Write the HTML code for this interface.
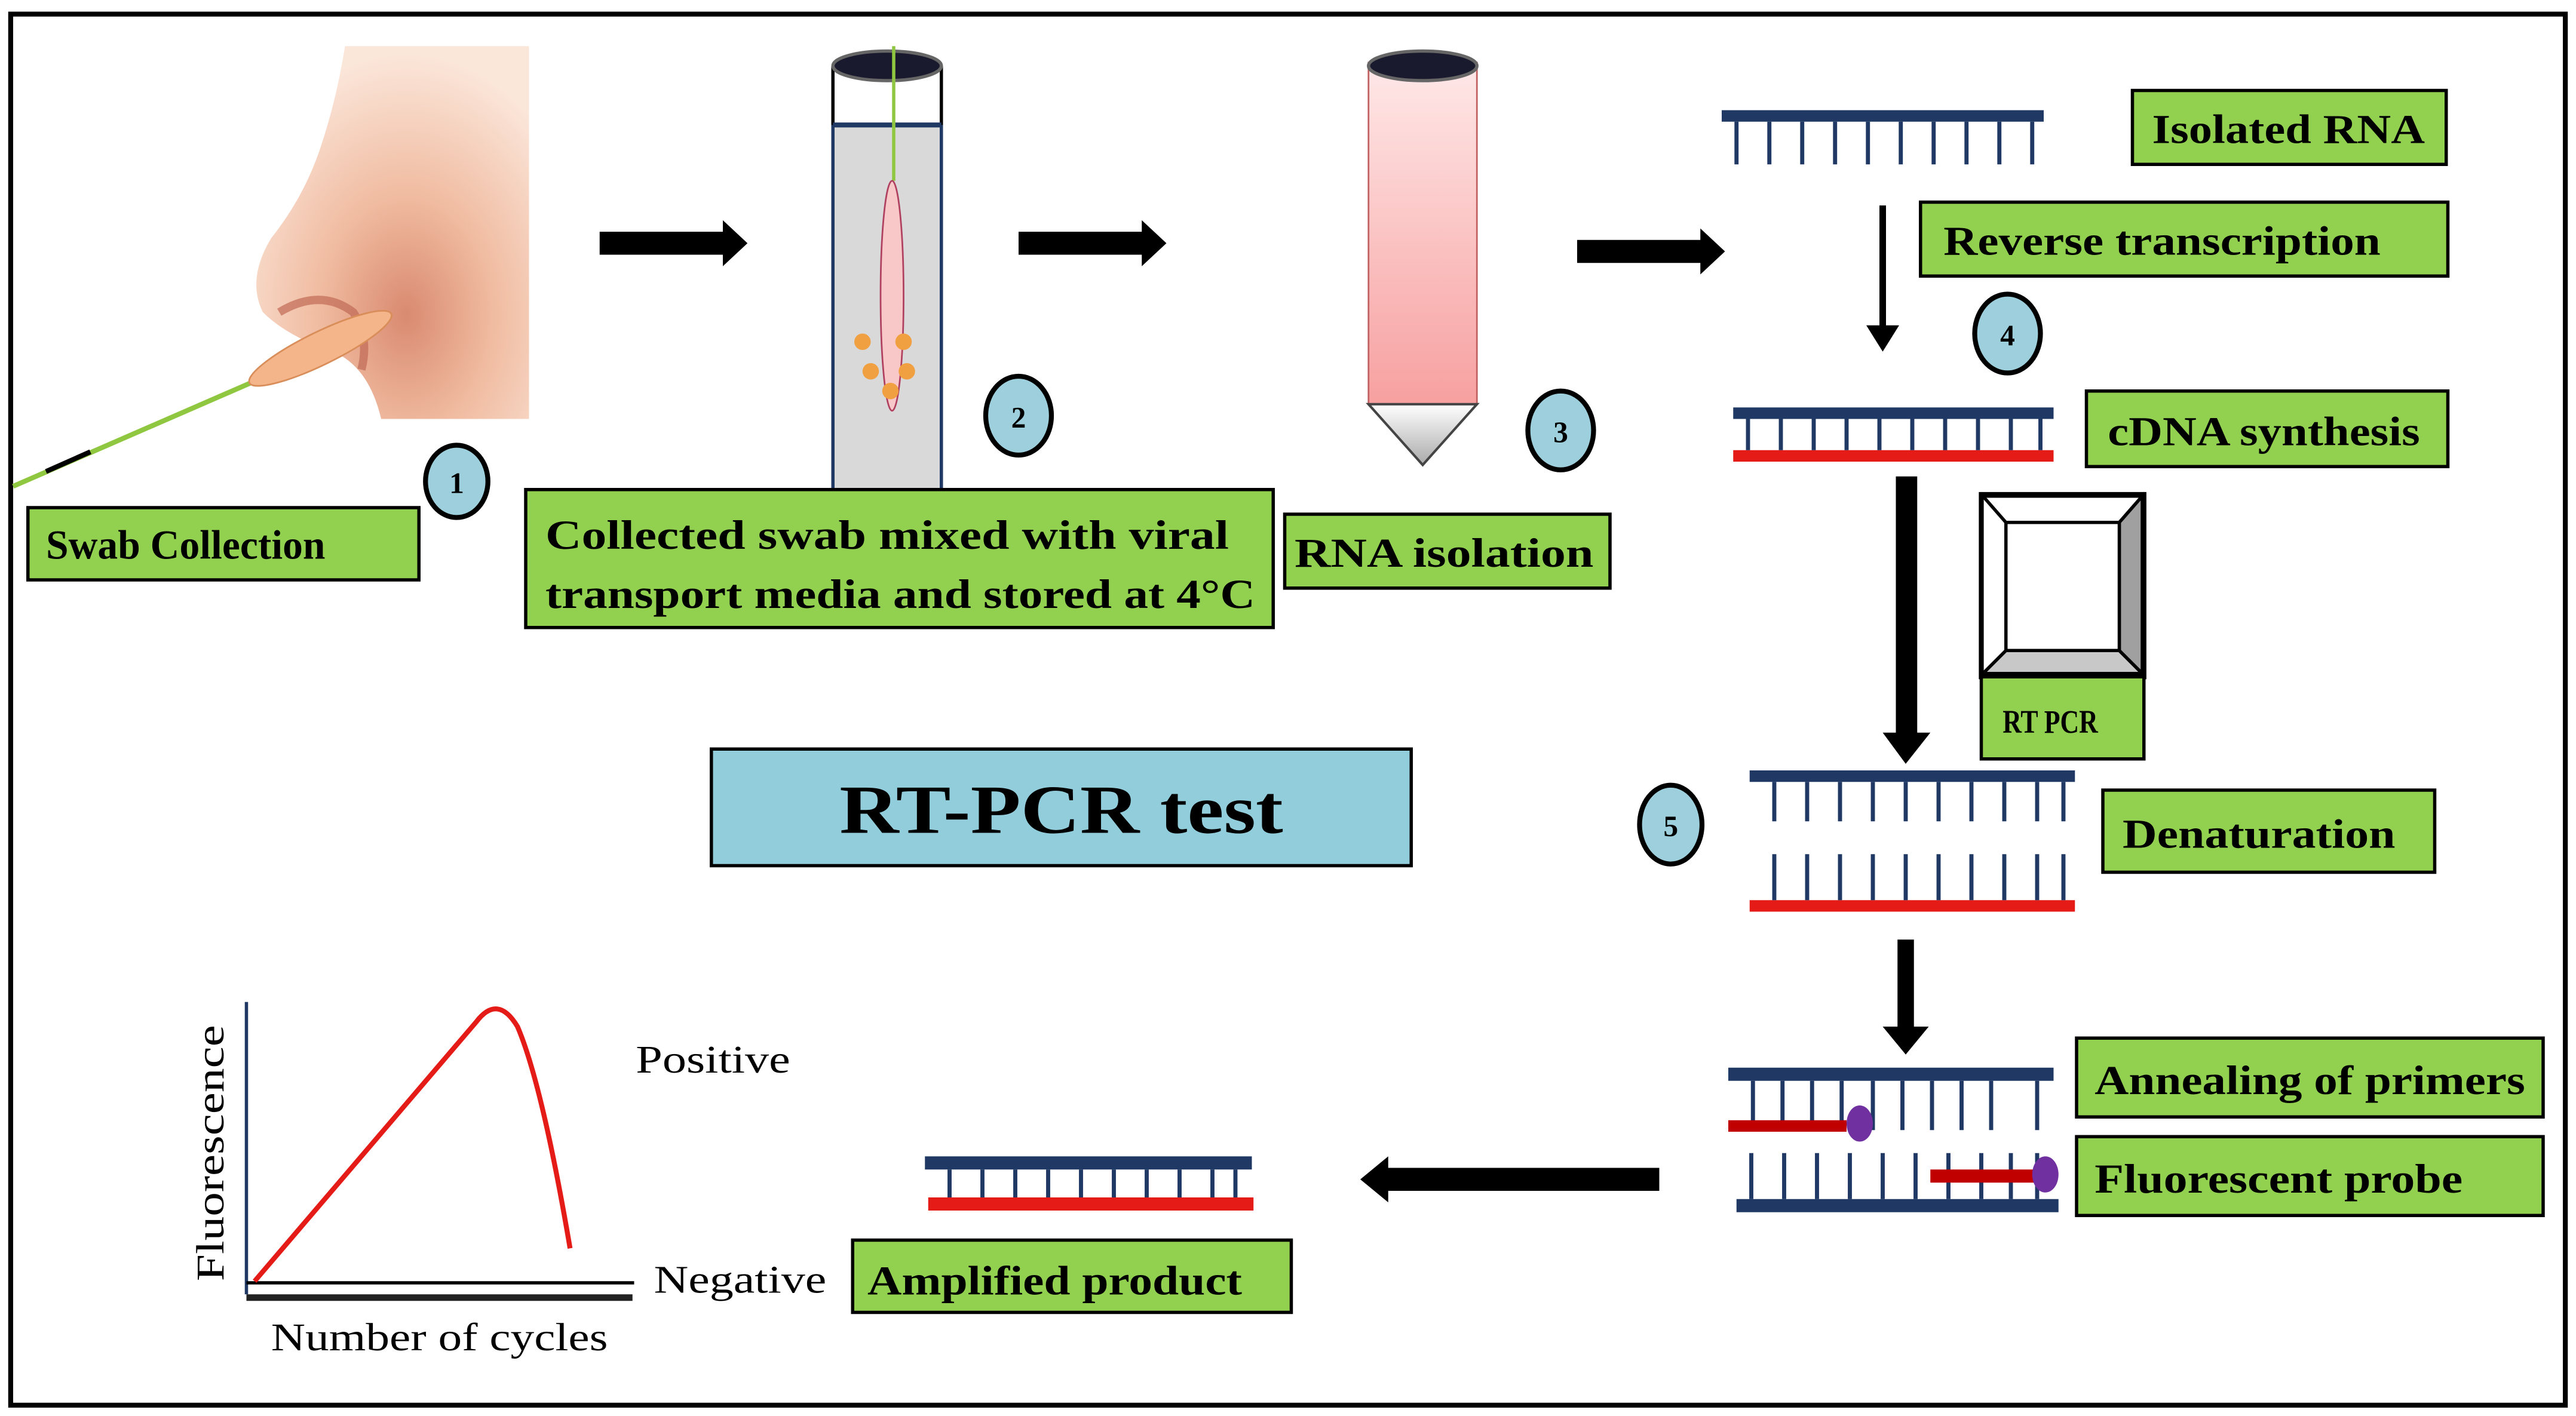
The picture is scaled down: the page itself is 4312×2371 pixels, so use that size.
<!DOCTYPE html>
<html><head><meta charset="utf-8"><style>html,body{margin:0;padding:0;background:#fff}svg{display:block}
text{font-family:"Liberation Serif",serif;font-weight:bold;fill:#000}</style></head><body>
<svg width="4312" height="2371" viewBox="0 0 1568 862" xmlns="http://www.w3.org/2000/svg">
<defs>
<radialGradient id="skin" cx="0.55" cy="0.72" r="0.7"><stop offset="0" stop-color="#d98a70"/><stop offset="0.45" stop-color="#f0bba0"/><stop offset="1" stop-color="#fbe6da"/></radialGradient>
<linearGradient id="pink" x1="0" y1="0" x2="0" y2="1"><stop offset="0" stop-color="#ffe8e8"/><stop offset="1" stop-color="#f7a0a0"/></linearGradient>
<linearGradient id="cone" x1="0" y1="0" x2="0" y2="1"><stop offset="0" stop-color="#fff"/><stop offset="1" stop-color="#aaa"/></linearGradient>
</defs>
<rect x="0" y="0" width="1568" height="862" fill="#fff"/>
<rect x="6.5" y="8.5" width="1555" height="847" fill="none" stroke="#000" stroke-width="3"/>
<!-- nose -->
<path d="M210 28 L322 28 L322 255 L232 255 Q225 225 205 215 Q175 205 160 190 Q150 170 165 145 Q185 120 195 90 Q205 60 210 28 Z" fill="url(#skin)"/>
<path d="M170 190 Q195 175 215 190 Q225 205 220 225" stroke="#c06a55" stroke-width="5" fill="none" opacity="0.7"/>
<line x1="8" y1="296" x2="155" y2="232" stroke="#8fc740" stroke-width="3"/>
<line x1="28" y1="287" x2="55" y2="275" stroke="#000" stroke-width="3"/>
<ellipse cx="195" cy="212" rx="48" ry="10" transform="rotate(-26 195 212)" fill="#f4b58a" stroke="#d98e5a" stroke-width="1"/>
<ellipse cx="278" cy="293" rx="19" ry="22" fill="#9dd0dc" stroke="#000" stroke-width="3"/>
<text x="278" y="300" font-size="18" text-anchor="middle">1</text>
<rect x="17" y="309" width="238" height="44" fill="#92d050" stroke="#000" stroke-width="2"/>
<text x="28" y="340" font-size="25" textLength="170" lengthAdjust="spacingAndGlyphs">Swab Collection</text>
<!-- arrow1 -->
<polygon points="365,141 440,141 440,134 455,148 440,162 440,155 365,155" fill="#000"/>
<!-- tube 2 -->
<rect x="507" y="76" width="66" height="234" fill="#d9d9d9" stroke="#1f3864" stroke-width="2"/>
<line x1="507" y1="40" x2="507" y2="76" stroke="#000" stroke-width="2"/>
<line x1="573" y1="40" x2="573" y2="76" stroke="#000" stroke-width="2"/>
<line x1="507" y1="76" x2="573" y2="76" stroke="#1f3864" stroke-width="3"/>
<ellipse cx="540" cy="40" rx="33" ry="9" fill="#1a1a2e" stroke="#666" stroke-width="2"/>
<polygon points="506,310 574,310 540,346" fill="#4f81bd"/>
<line x1="544" y1="28" x2="544" y2="110" stroke="#8fc740" stroke-width="2"/>
<ellipse cx="543" cy="180" rx="7" ry="70" fill="#f8c8c8" stroke="#b04060" stroke-width="1"/>
<g fill="#f0a040"><circle cx="525" cy="208" r="5"/><circle cx="550" cy="208" r="5"/><circle cx="530" cy="226" r="5"/><circle cx="552" cy="226" r="5"/><circle cx="542" cy="238" r="5"/></g>
<ellipse cx="620" cy="253" rx="20" ry="24" fill="#9dd0dc" stroke="#000" stroke-width="3"/>
<text x="620" y="260" font-size="18" text-anchor="middle">2</text>
<rect x="320" y="298" width="455" height="84" fill="#92d050" stroke="#000" stroke-width="2"/>
<text x="332" y="334" font-size="25" textLength="416" lengthAdjust="spacingAndGlyphs">Collected swab mixed with viral</text>
<text x="332" y="370" font-size="25" textLength="432" lengthAdjust="spacingAndGlyphs">transport media and stored at 4°C</text>
<polygon points="620,141 695,141 695,134 710,148 695,162 695,155 620,155" fill="#000"/>
<!-- tube 3 -->
<rect x="833" y="38" width="66" height="208" fill="url(#pink)" stroke="#c06060" stroke-width="1"/>
<ellipse cx="866" cy="40" rx="33" ry="9" fill="#1a1a2e" stroke="#666" stroke-width="2"/>
<polygon points="833,246 899,246 866,283" fill="url(#cone)" stroke="#444" stroke-width="1.5"/>
<ellipse cx="950" cy="262" rx="20" ry="24" fill="#9dd0dc" stroke="#000" stroke-width="3"/>
<text x="950" y="269" font-size="18" text-anchor="middle">3</text>
<rect x="782" y="313" width="198" height="45" fill="#92d050" stroke="#000" stroke-width="2"/>
<text x="788" y="345" font-size="25" textLength="182" lengthAdjust="spacingAndGlyphs">RNA isolation</text>
<polygon points="960,146 1035,146 1035,139 1050,153 1035,167 1035,160 960,160" fill="#000"/>
<!-- isolated RNA -->
<rect x="1048" y="67" width="196" height="7" fill="#1f3864"/>
<g stroke="#1f3864" stroke-width="2.5">
<line x1="1057" y1="74" x2="1057" y2="100"/><line x1="1077" y1="74" x2="1077" y2="100"/><line x1="1097" y1="74" x2="1097" y2="100"/><line x1="1117" y1="74" x2="1117" y2="100"/><line x1="1137" y1="74" x2="1137" y2="100"/><line x1="1157" y1="74" x2="1157" y2="100"/><line x1="1177" y1="74" x2="1177" y2="100"/><line x1="1197" y1="74" x2="1197" y2="100"/><line x1="1217" y1="74" x2="1217" y2="100"/><line x1="1237" y1="74" x2="1237" y2="100"/></g>
<rect x="1298" y="55" width="191" height="45" fill="#92d050" stroke="#000" stroke-width="2"/>
<text x="1310" y="87" font-size="25" textLength="166" lengthAdjust="spacingAndGlyphs">Isolated RNA</text>
<rect x="1169" y="123" width="321" height="45" fill="#92d050" stroke="#000" stroke-width="2"/>
<text x="1183" y="155" font-size="25" textLength="266" lengthAdjust="spacingAndGlyphs">Reverse transcription</text>
<line x1="1146" y1="125" x2="1146" y2="200" stroke="#000" stroke-width="4"/>
<polygon points="1136,198 1156,198 1146,214" fill="#000"/>
<ellipse cx="1222" cy="203" rx="20" ry="24" fill="#9dd0dc" stroke="#000" stroke-width="3"/>
<text x="1222" y="210" font-size="18" text-anchor="middle">4</text>
<!-- cDNA -->
<rect x="1055" y="248" width="195" height="7" fill="#1f3864"/>
<rect x="1055" y="274" width="195" height="7" fill="#e41b17"/>
<g stroke="#1f3864" stroke-width="2.5">
<line x1="1064" y1="255" x2="1064" y2="274"/><line x1="1084" y1="255" x2="1084" y2="274"/><line x1="1104" y1="255" x2="1104" y2="274"/><line x1="1124" y1="255" x2="1124" y2="274"/><line x1="1144" y1="255" x2="1144" y2="274"/><line x1="1164" y1="255" x2="1164" y2="274"/><line x1="1184" y1="255" x2="1184" y2="274"/><line x1="1204" y1="255" x2="1204" y2="274"/><line x1="1224" y1="255" x2="1224" y2="274"/><line x1="1242" y1="255" x2="1242" y2="274"/></g>
<rect x="1270" y="238" width="220" height="46" fill="#92d050" stroke="#000" stroke-width="2"/>
<text x="1283" y="271" font-size="25" textLength="190" lengthAdjust="spacingAndGlyphs">cDNA synthesis</text>
<rect x="1154" y="290" width="13" height="158" fill="#000"/>
<polygon points="1146,446 1175,446 1160,465" fill="#000"/>
<!-- RT PCR machine -->
<rect x="1206" y="301" width="99" height="111" fill="#fff" stroke="#000" stroke-width="3"/>
<polygon points="1207,302 1304,302 1290,318 1221,318" fill="#fff" stroke="#000" stroke-width="2"/>
<polygon points="1207,410 1304,410 1290,396 1221,396" fill="#c8c8c8" stroke="#000" stroke-width="2"/>
<polygon points="1304,302 1304,410 1290,396 1290,318" fill="#a0a0a0" stroke="#000" stroke-width="2"/>
<rect x="1221" y="318" width="69" height="78" fill="#fff" stroke="#000" stroke-width="2"/>
<rect x="1206" y="412" width="99" height="50" fill="#92d050" stroke="#000" stroke-width="2"/>
<text x="1219" y="446" font-size="20" textLength="58" lengthAdjust="spacingAndGlyphs">RT PCR</text>
<!-- RT-PCR test -->
<rect x="433" y="456" width="426" height="71" fill="#92cddc" stroke="#000" stroke-width="2"/>
<text x="646" y="507" font-size="42" text-anchor="middle" textLength="270" lengthAdjust="spacingAndGlyphs">RT-PCR test</text>
<ellipse cx="1017" cy="502" rx="19" ry="24" fill="#9dd0dc" stroke="#000" stroke-width="3"/>
<text x="1017" y="509" font-size="18" text-anchor="middle">5</text>
<!-- denaturation -->
<rect x="1065" y="469" width="198" height="7" fill="#1f3864"/>
<rect x="1065" y="548" width="198" height="7" fill="#e41b17"/>
<g stroke="#1f3864" stroke-width="2.5">
<line x1="1080" y1="476" x2="1080" y2="500"/><line x1="1100" y1="476" x2="1100" y2="500"/><line x1="1120" y1="476" x2="1120" y2="500"/><line x1="1140" y1="476" x2="1140" y2="500"/><line x1="1160" y1="476" x2="1160" y2="500"/><line x1="1180" y1="476" x2="1180" y2="500"/><line x1="1200" y1="476" x2="1200" y2="500"/><line x1="1220" y1="476" x2="1220" y2="500"/><line x1="1240" y1="476" x2="1240" y2="500"/><line x1="1256" y1="476" x2="1256" y2="500"/>
<line x1="1080" y1="520" x2="1080" y2="548"/><line x1="1100" y1="520" x2="1100" y2="548"/><line x1="1120" y1="520" x2="1120" y2="548"/><line x1="1140" y1="520" x2="1140" y2="548"/><line x1="1160" y1="520" x2="1160" y2="548"/><line x1="1180" y1="520" x2="1180" y2="548"/><line x1="1200" y1="520" x2="1200" y2="548"/><line x1="1220" y1="520" x2="1220" y2="548"/><line x1="1240" y1="520" x2="1240" y2="548"/><line x1="1256" y1="520" x2="1256" y2="548"/></g>
<rect x="1280" y="481" width="202" height="50" fill="#92d050" stroke="#000" stroke-width="2"/>
<text x="1292" y="516" font-size="25" textLength="166" lengthAdjust="spacingAndGlyphs">Denaturation</text>
<rect x="1155" y="572" width="10" height="55" fill="#000"/>
<polygon points="1146,625 1174,625 1160,642" fill="#000"/>
<!-- annealing -->
<rect x="1052" y="650" width="198" height="8" fill="#1f3864"/>
<g stroke="#1f3864" stroke-width="2.5">
<line x1="1067" y1="658" x2="1067" y2="688"/><line x1="1085" y1="658" x2="1085" y2="688"/><line x1="1103" y1="658" x2="1103" y2="688"/><line x1="1121" y1="658" x2="1121" y2="688"/><line x1="1140" y1="658" x2="1140" y2="688"/><line x1="1158" y1="658" x2="1158" y2="688"/><line x1="1176" y1="658" x2="1176" y2="688"/><line x1="1194" y1="658" x2="1194" y2="688"/><line x1="1212" y1="658" x2="1212" y2="688"/><line x1="1240" y1="658" x2="1240" y2="688"/></g>
<rect x="1052" y="682" width="72" height="7" fill="#c00000"/>
<ellipse cx="1132" cy="684" rx="8" ry="11" fill="#7030a0"/>
<rect x="1264" y="632" width="284" height="48" fill="#92d050" stroke="#000" stroke-width="2"/>
<text x="1275" y="666" font-size="25" textLength="262" lengthAdjust="spacingAndGlyphs">Annealing of primers</text>
<rect x="1264" y="692" width="284" height="48" fill="#92d050" stroke="#000" stroke-width="2"/>
<text x="1275" y="726" font-size="25" textLength="224" lengthAdjust="spacingAndGlyphs">Fluorescent probe</text>
<rect x="1057" y="730" width="196" height="8" fill="#1f3864"/>
<g stroke="#1f3864" stroke-width="2.5">
<line x1="1066" y1="702" x2="1066" y2="730"/><line x1="1086" y1="702" x2="1086" y2="730"/><line x1="1106" y1="702" x2="1106" y2="730"/><line x1="1126" y1="702" x2="1126" y2="730"/><line x1="1146" y1="702" x2="1146" y2="730"/><line x1="1166" y1="702" x2="1166" y2="730"/><line x1="1186" y1="702" x2="1186" y2="730"/><line x1="1206" y1="702" x2="1206" y2="730"/><line x1="1224" y1="702" x2="1224" y2="730"/><line x1="1240" y1="702" x2="1240" y2="730"/></g>
<rect x="1175" y="712" width="66" height="8" fill="#c00000"/>
<ellipse cx="1245" cy="715" rx="8" ry="11" fill="#7030a0"/>
<!-- left arrow -->
<polygon points="1010,711 845,711 845,704 828,718 845,732 845,725 1010,725" fill="#000"/>
<!-- amplified -->
<rect x="563" y="704" width="199" height="8" fill="#1f3864"/>
<rect x="565" y="729" width="198" height="8" fill="#e41b17"/>
<g stroke="#1f3864" stroke-width="2.5">
<line x1="578" y1="712" x2="578" y2="729"/><line x1="598" y1="712" x2="598" y2="729"/><line x1="618" y1="712" x2="618" y2="729"/><line x1="638" y1="712" x2="638" y2="729"/><line x1="658" y1="712" x2="658" y2="729"/><line x1="678" y1="712" x2="678" y2="729"/><line x1="698" y1="712" x2="698" y2="729"/><line x1="718" y1="712" x2="718" y2="729"/><line x1="738" y1="712" x2="738" y2="729"/><line x1="752" y1="712" x2="752" y2="729"/></g>
<rect x="519" y="755" width="267" height="44" fill="#92d050" stroke="#000" stroke-width="2"/>
<text x="528" y="788" font-size="25" textLength="228" lengthAdjust="spacingAndGlyphs">Amplified product</text>
<!-- graph -->
<line x1="150" y1="610" x2="150" y2="788" stroke="#1f3864" stroke-width="2"/>
<line x1="150" y1="781" x2="386" y2="781" stroke="#000" stroke-width="2"/>
<line x1="150" y1="790" x2="385" y2="790" stroke="#222" stroke-width="4"/>
<path d="M155 780 L290 622 Q303 605 315 625 Q330 660 347 760" stroke="#e41b17" stroke-width="3" fill="none"/>
<text transform="translate(136 780) rotate(-90)" font-size="24" style="font-weight:normal" textLength="156" lengthAdjust="spacingAndGlyphs">Fluorescence</text>
<text x="387" y="653" font-size="24" style="font-weight:normal" textLength="94" lengthAdjust="spacingAndGlyphs">Positive</text>
<text x="398" y="787" font-size="24" style="font-weight:normal" textLength="105" lengthAdjust="spacingAndGlyphs">Negative</text>
<text x="165" y="822" font-size="24" style="font-weight:normal" textLength="205" lengthAdjust="spacingAndGlyphs">Number of cycles</text>
</svg>
</body></html>
